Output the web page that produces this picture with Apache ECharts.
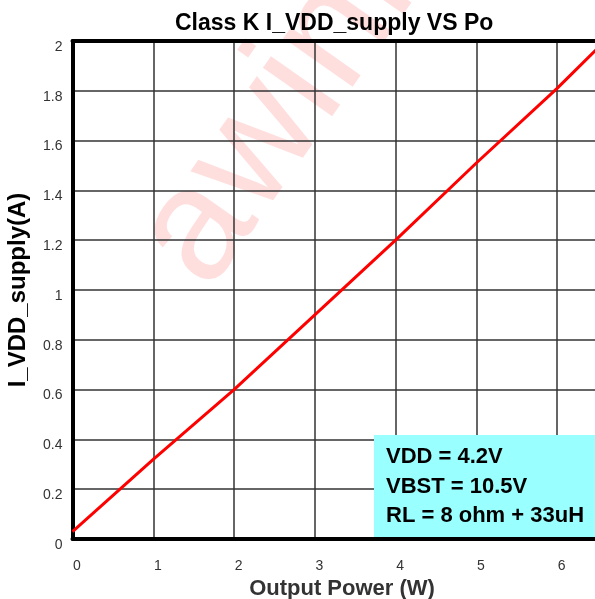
<!DOCTYPE html>
<html>
<head>
<meta charset="utf-8">
<script src="https://cdn.jsdelivr.net/npm/echarts@6/dist/echarts.min.js"></script>
<style>
  html, body { margin: 0; padding: 0; background: #fff; }
  #chart { width: 595px; height: 599px; }
</style>
</head>
<body>
<div id="chart"></div>
<script>
// output power (W) and supply current (A)
var powerW = [0, 1, 2, 3, 4, 5, 6, 6.5];
var currentA = [0.03, 0.32, 0.6, 0.9, 1.2, 1.51, 1.81, 1.97];
var noteLines = ["VDD = 4.2V", "VBST = 10.5V", "RL = 8 ohm + 33uH"];

var font = "'Liberation Sans', Arial, sans-serif";
var chart = echarts.init(document.getElementById("chart"));

var lineData = powerW.map(function (p, i) { return [p, currentA[i]]; });

var graphics = [
  {
    // watermark
    type: "text",
    x: 238,
    y: 313,
    rotation: 55 * Math.PI / 180,
    z: -10,
    silent: true,
    style: {
      text: "awinic",
      font: "160px " + font,
      fill: "rgba(255,0,0,0.13)",
      textAlign: "left",
      textVerticalAlign: "bottom"
    }
  },
  {
    type: "rect",
    x: 374,
    y: 435,
    z: 50,
    shape: { width: 225, height: 102 },
    style: { fill: "#99ffff" }
  }
];
noteLines.forEach(function (t, i) {
  graphics.push({
    type: "text",
    x: 386,
    y: 457 + i * 29.5,
    z: 51,
    style: {
      text: t,
      font: "bold 22px " + font,
      fill: "#000",
      textVerticalAlign: "middle"
    }
  });
});

var option = {
  backgroundColor: "#fff",
  animation: false,
  title: {
    text: "Class K I_VDD_supply VS Po",
    left: 170,
    top: 7,
    textStyle: { fontFamily: font, fontWeight: "bold", fontSize: 23, color: "#000" }
  },
  grid: {
    left: 72.5,
    top: 41,
    width: 525,
    bottom: 60,
    outerBoundsMode: "none",
    containLabel: false
  },
  xAxis: [{
    type: "value",
    min: 0,
    max: 6.5,
    interval: 1,
    name: "Output Power (W)",
    nameLocation: "middle",
    nameGap: 36,
    nameTextStyle: { fontFamily: font, fontWeight: "bold", fontSize: 22, color: "#333", padding: [0, 0, 0, 14] },
    axisLine: { lineStyle: { color: "#000", width: 4 } },
    axisTick: { show: false },
    axisLabel: { fontFamily: font, fontSize: 14, color: "#333", margin: 20, showMaxLabel: false, padding: [0, 0, 0, 9] },
    splitLine: { show: true, lineStyle: { color: "#333", width: 1.5 } }
  }, {
    type: "value",
    position: "top",
    min: 0,
    max: 6.5,
    interval: 1,
    axisLine: { lineStyle: { color: "#000", width: 4 } },
    axisTick: { show: false },
    axisLabel: { show: false },
    splitLine: { show: false }
  }],
  yAxis: {
    type: "value",
    min: 0,
    max: 2,
    interval: 0.2,
    name: "I_VDD_supply(A)",
    nameLocation: "middle",
    nameGap: 42,
    nameTextStyle: { fontFamily: font, fontWeight: "bold", fontSize: 24, color: "#000" },
    axisLine: { lineStyle: { color: "#000", width: 4 } },
    axisTick: { show: false },
    axisLabel: { fontFamily: font, fontSize: 14, color: "#333", margin: 10, verticalAlign: "top", padding: [-1, 0, 0, 0] },
    splitLine: { show: true, lineStyle: { color: "#333", width: 1.5 } }
  },
  series: [{
    type: "line",
    data: lineData,
    showSymbol: false,
    symbol: "none",
    lineStyle: { color: "#ff0000", width: 3 },
    z: 5
  }],
  graphic: graphics
};

chart.setOption(option);
</script>
</body>
</html>
